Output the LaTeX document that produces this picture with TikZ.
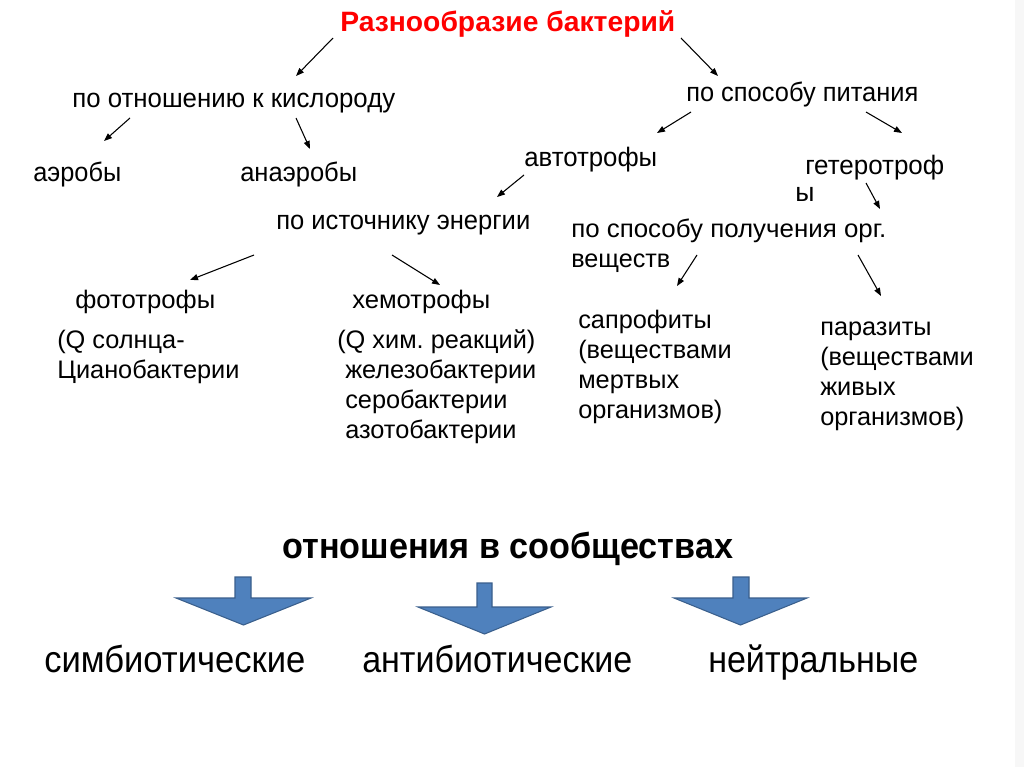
\documentclass[tikz,border=0pt]{standalone}
\usepackage{fontspec}
\setmainfont{Liberation Sans}
\usetikzlibrary{arrows.meta}
\definecolor{arrowblue}{HTML}{4F81BD}
\definecolor{arrowedge}{HTML}{3A5F8C}
\newcommand\fw[2]{\resizebox{0.75\dimexpr#1pt\relax}{\height}{#2}}
\newcommand\lines[1]{\begin{tabular}[t]{@{}l@{}}#1\end{tabular}}
\frenchspacing
\begin{document}
\begin{tikzpicture}[x=0.75pt,y=-0.75pt,
  lbl/.style={inner sep=0pt, anchor=base west, font=\fontsize{19}{22.5}\selectfont},
  blk/.style={lbl},
  big/.style={lbl, font=\fontsize{28}{32}\selectfont},
  con/.style={-{Triangle[length=6pt,width=4.5pt]}, line width=0.8pt},
  barrow/.style={fill=arrowblue, draw=arrowedge, line width=0.8pt, line join=miter}]
\useasboundingbox (0,0) rectangle (1024,767);
\fill[white] (0,0) rectangle (1024,767);
\fill[gray!6] (1015,0) rectangle (1024,767);

% labels
\node[lbl, font=\bfseries\fontsize{21}{25}\selectfont, text=red] (title) at (340,32) {\fw{335}{Разнообразие бактерий}};
\node[lbl, font=\fontsize{20}{24}\selectfont] (oxy) at (72,108) {\fw{323}{по отношению к кислороду}};
\node[lbl, font=\fontsize{20}{24}\selectfont] (food) at (686,102) {\fw{232}{по способу питания}};
\node[lbl, font=\fontsize{20}{24}\selectfont] (aer) at (33,181) {\fw{88}{аэробы}};
\node[lbl, font=\fontsize{20}{24}\selectfont] (anaer) at (240,181) {\fw{117}{анаэробы}};
\node[lbl, font=\fontsize{20}{24}\selectfont] (auto) at (524,166) {\fw{133}{автотрофы}};
\node[lbl, font=\fontsize{20}{24}\selectfont] (hetero) at (805,174) {\fw{139}{гетеротроф}};
\node[lbl, font=\fontsize{20}{24}\selectfont] (heteroy) at (795,201) {ы};
\node[lbl, font=\fontsize{20}{24}\selectfont] (energy) at (276,229) {\fw{254}{по источнику энергии}};
\node[lbl] (orgway) at (571,237) {\fw{315}{по способу получения орг.}};
\node[lbl] (orgway2) at (571,267) {\fw{99}{веществ}};
\node[lbl] (photo) at (75,308) {\fw{140}{фототрофы}};
\node[lbl] (chemo) at (352,308) {\fw{138}{хемотрофы}};
\node[blk] (photod) at (57,348) {\lines{(Q солнца-\\Цианобактерии}};
\node[blk] (chemod) at (337,348) {\lines{(Q хим. реакций)\\\hspace*{6pt}железобактерии\\\hspace*{6pt}серобактерии\\\hspace*{6pt}азотобактерии}};
\node[blk] (sapro) at (578,328) {\lines{сапрофиты\\(веществами\\мертвых\\организмов)}};
\node[blk] (para) at (820,335) {\lines{паразиты\\(веществами\\живых\\организмов)}};

\node[lbl, font=\bfseries\fontsize{27}{32}\selectfont] (rel) at (282,558) {\fw{451}{отношения в сообществах}};
\node[big] (sym) at (44,672) {\fw{261}{симбиотические}};
\node[big] (anti) at (362,672) {\fw{270}{антибиотические}};
\node[big] (neut) at (708,672) {\fw{210}{нейтральные}};

% connector end points
\coordinate (t1) at (333,38);  \coordinate (t1e) at (296,76);
\coordinate (t2) at (681,38);  \coordinate (t2e) at (718,76);
\coordinate (o1) at (130,118); \coordinate (o1e) at (104,141);
\coordinate (o2) at (296,118); \coordinate (o2e) at (310,149);
\coordinate (f1) at (691,112); \coordinate (f1e) at (657,133);
\coordinate (f2) at (866,112); \coordinate (f2e) at (902,133);
\coordinate (a1) at (524,175); \coordinate (a1e) at (497,197);
\coordinate (h1) at (866,183); \coordinate (h1e) at (880,209);
\coordinate (e1) at (254,255); \coordinate (e1e) at (190,280);
\coordinate (e2) at (392,255); \coordinate (e2e) at (440,285);
\coordinate (g1) at (697,255); \coordinate (g1e) at (677,286);
\coordinate (g2) at (858,255); \coordinate (g2e) at (881,296);

\draw[con] (t1) -- (t1e);
\draw[con] (t2) -- (t2e);
\draw[con] (o1) -- (o1e);
\draw[con] (o2) -- (o2e);
\draw[con] (f1) -- (f1e);
\draw[con] (f2) -- (f2e);
\draw[con] (a1) -- (a1e);
\draw[con] (h1) -- (h1e);
\draw[con] (e1) -- (e1e);
\draw[con] (e2) -- (e2e);
\draw[con] (g1) -- (g1e);
\draw[con] (g2) -- (g2e);

% block arrows
\draw[barrow] (235,577) -- (251,577) -- (251,598) -- (311,598) -- (243.5,625) -- (176,598) -- (235,598) -- cycle;
\draw[barrow] (477,583) -- (492,583) -- (492,607) -- (551,607) -- (484.5,634) -- (418,607) -- (477,607) -- cycle;
\draw[barrow] (733,577) -- (749,577) -- (749,598) -- (807,598) -- (740.5,625) -- (674,598) -- (733,598) -- cycle;
\end{tikzpicture}
\end{document}
